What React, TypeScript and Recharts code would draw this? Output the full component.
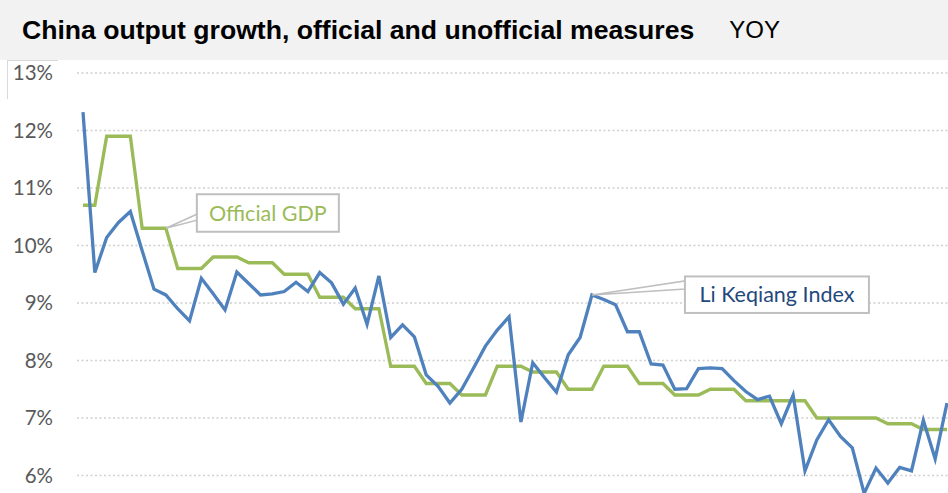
import React from 'react';
import { LineChart, Line, XAxis, YAxis, CartesianGrid, ReferenceDot } from 'recharts';

// monthly, Nov 2009 .. Dec 2015
const liKeqiangIndex = [
    12.32, 9.53, 10.14, 10.4, 10.59, 9.91, 9.24, 9.14, 8.9, 8.69,
    9.43, 9.16, 8.88, 9.54, 9.34, 9.14, 9.16, 9.2, 9.36, 9.2,
    9.53, 9.35, 8.98, 9.26, 8.63, 9.47, 8.4, 8.62, 8.41, 7.75,
    7.55, 7.26, 7.5, 7.87, 8.25, 8.53, 8.76, 6.93, 7.96, 7.7,
    7.45, 8.1, 8.4, 9.14, 9.06, 8.97, 8.5, 8.5, 7.94, 7.92,
    7.5, 7.51, 7.86, 7.87, 7.86, 7.65, 7.46, 7.32, 7.38, 6.9,
    7.4, 6.08, 6.62, 6.97, 6.68, 6.48, 5.69, 6.13, 5.87, 6.14,
    6.08, 6.96, 6.29, 7.26,
];

const officialGdp = [
    10.7, 10.7, 11.9, 11.9, 11.9, 10.3, 10.3, 10.3, 9.6, 9.6,
    9.6, 9.8, 9.8, 9.8, 9.7, 9.7, 9.7, 9.5, 9.5, 9.5,
    9.1, 9.1, 9.1, 8.9, 8.9, 8.9, 7.9, 7.9, 7.9, 7.6,
    7.6, 7.6, 7.4, 7.4, 7.4, 7.9, 7.9, 7.9, 7.8, 7.8,
    7.8, 7.5, 7.5, 7.5, 7.9, 7.9, 7.9, 7.6, 7.6, 7.6,
    7.4, 7.4, 7.4, 7.5, 7.5, 7.5, 7.3, 7.3, 7.3, 7.3,
    7.3, 7.3, 7.0, 7.0, 7.0, 7.0, 7.0, 7.0, 6.9, 6.9,
    6.9, 6.8, 6.8, 6.8,
];

const yTicks = [6, 7, 8, 9, 10, 11, 12, 13];

const data = liKeqiangIndex.map((li, i) => ({ i, li, gdp: officialGdp[i] }));

const BLUE = '#4f81bd';
const GREEN = '#9bbb59';
const BOX = '#bfbfbf';
const LABEL_FONT = 'Lato, "Open Sans", sans-serif';

type CalloutOpts = {
    dx: number;
    dy: number;
    w: number;
    h: number;
    wedge: [number, number];
    text: string;
    color: string;
};

const makeCallout = (o: CalloutOpts) => (props: any) => {
    const { cx, cy } = props;
    const left = cx + o.dx;
    const top = cy + o.dy;
    return (
        <g>
            <polygon
                points={`${cx},${cy} ${left},${cy + o.wedge[0]} ${left},${cy + o.wedge[1]}`}
                fill="#fff"
                stroke={BOX}
                strokeWidth={1.5}
            />
            <rect x={left} y={top} width={o.w} height={o.h} fill="#fff" stroke={BOX} strokeWidth={2} />
            <text
                x={left + o.w / 2}
                y={top + o.h / 2 + 7.5}
                textAnchor="middle"
                fill={o.color}
                fontFamily={LABEL_FONT}
                fontSize={21.5}
            >
                {o.text}
            </text>
        </g>
    );
};

const gdpCallout = makeCallout({ dx: 31, dy: -34, w: 142, h: 37.5, wedge: [-14, -8], text: 'Official GDP', color: GREEN });
const liCallout = makeCallout({ dx: 93, dy: -18.5, w: 184, h: 36.5, wedge: [-14, -6], text: 'Li Keqiang Index', color: '#1f497d' });

export default function App() {
    return (
        <div style={{ position: 'relative', width: 948, height: 493, overflow: 'hidden', background: '#fff' }}>
            <style>{'body{margin:0}'}</style>
            <div
                style={{
                    position: 'absolute',
                    left: 0,
                    top: 0,
                    width: 948,
                    height: 60,
                    background: '#f2f2f2',
                    display: 'flex',
                    alignItems: 'center',
                    paddingLeft: 22,
                    boxSizing: 'border-box',
                    fontFamily: '"Liberation Sans", Arial, sans-serif',
                    color: '#000',
                    whiteSpace: 'nowrap',
                }}
            >
                <span style={{ fontWeight: 'bold', fontSize: 26.6 }}>China output growth, official and unofficial measures</span>
                <span style={{ fontSize: 24, marginLeft: 35 }}>YOY</span>
            </div>
            <div
                style={{
                    position: 'absolute',
                    left: 7,
                    top: 60,
                    width: 50,
                    height: 38,
                    borderLeft: '1px solid #d9d9d9',
                    borderTop: '1px solid #d9d9d9',
                }}
            />
            <div style={{ position: 'absolute', left: 0, top: 0 }}>
                <LineChart width={948} height={540} data={data} margin={{ top: 73, right: 0, left: 0, bottom: 7 }}>
                    <CartesianGrid vertical={false} stroke="#d0d0d0" strokeWidth={1.5} strokeDasharray="2 2.5" />
                    <XAxis dataKey="i" type="number" domain={[0, 73]} hide padding={{ left: 6, right: 1 }} />
                    <YAxis
                        type="number"
                        domain={[5, 13]}
                        ticks={yTicks}
                        width={77}
                        axisLine={false}
                        tickLine={false}
                        tickSize={0}
                        tickMargin={24}
                        tickFormatter={(v: number) => `${v}%`}
                        tick={{ fill: '#595959', fontSize: 20.5, fontFamily: LABEL_FONT }}
                        interval={0}
                    />
                    <Line type="linear" dataKey="gdp" stroke={GREEN} strokeWidth={3.3} dot={false} isAnimationActive={false} />
                    <Line type="linear" dataKey="li" stroke={BLUE} strokeWidth={3.3} dot={false} isAnimationActive={false} />
                    <ReferenceDot x={7} y={officialGdp[7]} shape={gdpCallout} />
                    <ReferenceDot x={43} y={liKeqiangIndex[43]} shape={liCallout} />
                </LineChart>
            </div>
        </div>
    );
}
